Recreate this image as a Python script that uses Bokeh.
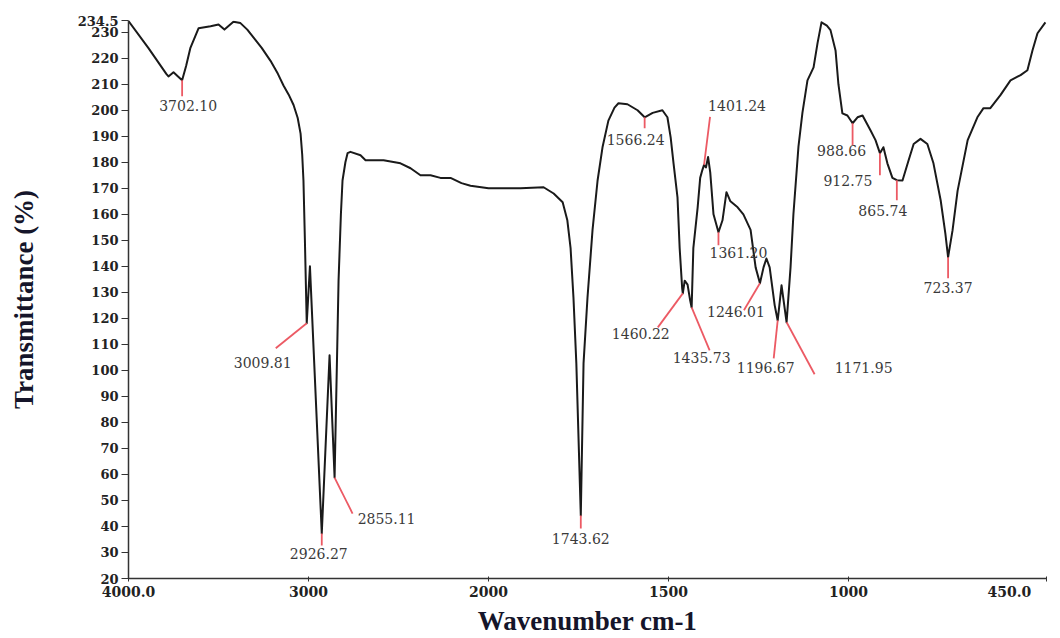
import numpy as np
from bokeh.plotting import figure
from bokeh.models import FixedTicker, Range1d
from bokeh.core.properties import value
from bokeh.embed import file_html
from bokeh.resources import INLINE

# ---------------- data ----------------
wavenumber = [4000, 3890, 3790, 3778, 3750, 3725, 3702.10, 3680, 3656, 3611, 3544, 3500, 3467,
              3417, 3378, 3340, 3306, 3260, 3211, 3170, 3139, 3110, 3083, 3060, 3044, 3035, 3028,
              3020, 3009.81, 2992, 2926.27, 2883, 2855.11, 2840, 2833, 2820, 2811, 2795, 2783,
              2767, 2711, 2683, 2583, 2489, 2433, 2378, 2322, 2267, 2211, 2150, 2100, 2000,
              1911, 1847, 1819, 1794, 1781, 1772, 1764, 1756, 1743.62, 1736, 1725, 1711, 1697,
              1683, 1667, 1650, 1639, 1614, 1586, 1566.24, 1544, 1517, 1503, 1494, 1486, 1475,
              1469, 1462, 1460.22, 1455, 1447, 1440, 1435.73, 1431, 1419, 1412, 1406, 1401.24,
              1396, 1390, 1384, 1375, 1361.20, 1350, 1339, 1328, 1308, 1292, 1272, 1258,
              1246.01, 1236, 1228, 1219, 1205, 1196.67, 1186, 1171.95, 1161, 1153, 1139, 1128,
              1114, 1097, 1086, 1075, 1060, 1050, 1036, 1028, 1017, 1003, 988.66, 975, 961,
              939, 925, 912.75, 903, 892, 878, 865.74, 850, 833, 819, 800, 781, 764, 744,
              731, 723.37, 711, 697, 669, 642, 625, 606, 578, 550, 522, 503, 489, 475, 453]
transmittance = [234.3, 224.0, 214.0, 213.0, 214.6, 213.0, 211.5, 217.0, 224.0, 231.5, 232.3, 233.0, 231.0,
                 234.0, 233.5, 231.0, 228.0, 224.0, 219.0, 214.0, 209.5, 206.0, 202.0, 197.0, 191.0, 183.0, 173.0,
                 150.0, 118.1, 140.0, 37.3, 105.8, 58.8, 110.0, 134.6, 160.0, 173.0, 180.0, 183.5,
                 184.0, 182.7, 180.8, 180.8, 179.6, 177.7, 175.0, 175.0, 174.0, 174.0, 172.0, 171.0, 170.0,
                 170.0, 170.4, 168.0, 164.6, 157.7, 147.0, 128.0, 102.7, 44.2, 102.7, 128.0, 154.0, 173.0,
                 186.0, 196.0, 201.0, 202.7, 202.3, 200.0, 197.3, 199.0, 200.0, 197.3, 189.6, 179.6, 166.5,
                 147.0, 131.5, 129.6, 134.5, 133.0, 127.0, 124.2, 147.0, 162.7, 174.0, 177.0, 179.0,
                 178.0, 182.0, 176.0, 160.0, 153.1, 157.7, 168.5, 165.0, 162.7, 160.0, 154.0, 139.6,
                 133.5, 139.6, 143.0, 139.6, 125.0, 119.2, 132.7, 118.5, 139.6, 160.0, 186.0, 199.0,
                 211.5, 216.5, 225.8, 233.8, 232.5, 230.8, 223.0, 210.0, 198.8, 198.0, 195.0, 197.3, 198.0,
                 192.3, 188.5, 183.5, 185.8, 179.6, 174.0, 173.1, 173.0, 180.8, 187.0, 189.0, 187.0, 179.6, 165.4,
                 152.7, 143.5, 153.8, 169.0, 188.5, 197.3, 200.8, 200.8, 205.8, 211.5, 213.5, 215.4, 223.0, 229.6, 233.8]

peak_labels = ["3702.10", "3009.81", "2926.27", "2855.11", "1743.62", "1566.24", "1460.22",
               "1435.73", "1401.24", "1361.20", "1246.01", "1196.67", "1171.95", "988.66",
               "912.75", "865.74", "723.37"]
peak_wavenumber = [3702.10, 3009.81, 2926.27, 2855.11, 1743.62, 1566.24, 1460.22, 1435.73,
                   1401.24, 1361.20, 1246.01, 1196.67, 1171.95, 988.66, 912.75, 865.74, 723.37]
peak_transmittance = [211.5, 118.1, 37.3, 58.8, 44.2, 197.3, 129.6, 124.2, 179.0, 153.1,
                      133.5, 119.2, 118.5, 195.0, 183.5, 173.1, 143.5]

x_tick_values = [4000, 3000, 2000, 1500, 1000, 450]
x_tick_labels = ["4000.0", "3000", "2000", "1500", "1000", "450.0"]
y_tick_values = list(range(20, 231, 10)) + [234.5]

# ---------------- layout of the peak annotations (screen px offsets) ----------------
leader_dx = [0, -31, 0, 18, 0, 0, -25, 18, 6, 0, -16, -4, 28, 0, 0, 0, 0]
leader_dy = [16, 25, 12, 36, 13, 11, 34, 43, -48, 13, 27, 38, 52, 22, 22, 20, 21]
text_dx = [6, -44, -3, 52, 0, -9, -42, 10, 33, 20, -24, -12, 77, -11, -32, -14, 0]
text_dy = [25, 39, 20, 41, 23, 22, 40, 50, -59, 20, 28, 47, 45, 27, 27, 30, 30]

# ---------------- split x-scale: 4000-2000 drawn at half scale ----------------
def to_axis(w):
    w = np.asarray(w, dtype=float)
    return np.where(w >= 2000, (4000.0 - w) / 2.0, 1000.0 + (2000.0 - w))

W, H = 1060, 638
L, R, T_, B = 128, 14, 20, 60
frame_w, frame_h = W - L - R, H - T_ - B
x_lo, x_hi = 0.0, float(to_axis(450))
y_lo, y_hi = 20.0, 234.5
px_per_x = frame_w / (x_hi - x_lo)
px_per_y = frame_h / (y_hi - y_lo)

p = figure(width=W, height=H, output_backend="svg", toolbar_location=None,
           x_range=Range1d(x_lo, x_hi), y_range=Range1d(y_lo, y_hi),
           min_border_left=L, min_border_right=R, min_border_top=T_, min_border_bottom=B)
p.background_fill_color = "white"
p.border_fill_color = "white"
p.outline_line_color = None
p.xgrid.visible = False
p.ygrid.visible = False

# spectrum
p.line(to_axis(wavenumber), transmittance, line_color="#1a1a1a", line_width=2,
       line_join="round")

# peak annotations
ax = to_axis(peak_wavenumber)
pt = np.asarray(peak_transmittance, dtype=float)
ex = ax + np.asarray(leader_dx) / px_per_x
ey = pt - np.asarray(leader_dy) / px_per_y
tx = ax + np.asarray(text_dx) / px_per_x
ty = pt - np.asarray(text_dy) / px_per_y
p.segment(x0=ax, y0=pt, x1=ex, y1=ey, line_color="#ec5a64", line_width=1.8)
p.text(x=tx, y=ty, text=peak_labels, text_align="center", text_baseline="middle",
       text_font=value("DejaVu Serif"), text_font_size="14px", text_color="#3a3a3a")

# axes
xa = p.xaxis[0]
xa.ticker = FixedTicker(ticks=[float(v) for v in to_axis(x_tick_values)])
overrides = {}
for v, lab in zip(to_axis(x_tick_values), x_tick_labels):
    overrides[int(round(float(v)))] = lab
# last label sits left of its tick (padding keeps it inside the page)
overrides[int(round(x_hi))] = x_tick_labels[-1] + "\u00a0" * 6
xa.major_label_overrides = overrides
xa.minor_tick_line_color = None
xa.major_tick_out = 3
xa.major_tick_in = 2
xa.axis_line_color = "#333333"
xa.axis_line_width = 1.5
xa.major_tick_line_color = "#333333"
xa.major_label_text_font = "DejaVu Serif"
xa.major_label_text_font_style = "bold"
xa.major_label_text_font_size = "14px"
xa.major_label_text_color = "#222222"
xa.major_label_standoff = 2
xa.axis_label = "Wavenumber cm-1"
xa.axis_label_text_font = "Liberation Serif"
xa.axis_label_text_font_style = "bold"
xa.axis_label_text_font_size = "27px"
xa.axis_label_text_color = "#15152a"
xa.axis_label_standoff = 3

ya = p.yaxis[0]
ya.ticker = FixedTicker(ticks=y_tick_values)
ya.major_label_overrides = {234.5: "234.5"}
ya.minor_tick_line_color = None
ya.major_tick_out = 7
ya.major_tick_in = 0
ya.axis_line_color = "#333333"
ya.axis_line_width = 1.5
ya.major_tick_line_color = "#333333"
ya.major_label_text_font = "DejaVu Serif"
ya.major_label_text_font_style = "bold"
ya.major_label_text_font_size = "13px"
ya.major_label_text_color = "#222222"
ya.major_label_standoff = 3
ya.axis_label = "Transmittance (%)"
ya.axis_label_text_font = "Liberation Serif"
ya.axis_label_text_font_style = "bold"
ya.axis_label_text_font_size = "27px"
ya.axis_label_text_color = "#15152a"
ya.axis_label_standoff = 36

open("out.html", "w").write(file_html(p, INLINE))
